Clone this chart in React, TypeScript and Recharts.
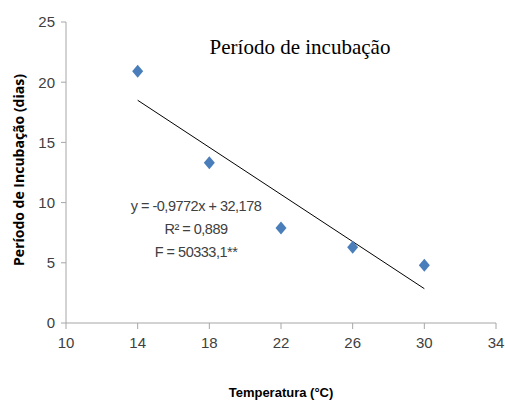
import { Scatter, ScatterChart, XAxis, YAxis } from "recharts";

const temperatures = [14, 18, 22, 26, 30];
const incubationDays = [20.9, 13.3, 7.9, 6.3, 4.8];
const trendX = [14, 30];
const trendY = [18.5, 2.85];
const xTicks = [10, 14, 18, 22, 26, 30, 34];
const yTicks = [0, 5, 10, 15, 20, 25];
const equationLines = ["y = -0,9772x + 32,178", "R² = 0,889", "F = 50333,1**"];

const points = temperatures.map((x, i) => ({ x, y: incubationDays[i] }));
const trend = trendX.map((x, i) => ({ x, y: trendY[i] }));

const axisColor = "#a6a6a6";
const narrow = "'Liberation Sans Narrow', 'Liberation Sans', sans-serif";
const tickFont = { fill: "#404040", fontSize: 15, fontFamily: narrow };

function Diamond(props: { cx?: number; cy?: number }) {
  const { cx = 0, cy = 0 } = props;
  const w = 5.5;
  const h = 6.5;
  return (
    <polygon
      points={`${cx},${cy - h} ${cx + w},${cy} ${cx},${cy + h} ${cx - w},${cy}`}
      fill="#4a7ebb"
    />
  );
}

export default function App() {
  return (
    <div style={{ position: "absolute", left: 0, top: 0, width: 505, height: 402, background: "#fff" }}>
      <ScatterChart width={505} height={402} margin={{ top: 22, right: 9, bottom: 0, left: 0 }}>
        <XAxis
          type="number"
          dataKey="x"
          domain={[10, 34]}
          ticks={xTicks}
          interval={0}
          height={79}
          stroke={axisColor}
          tickSize={6}
          tick={tickFont}
          tickMargin={8}
        />
        <YAxis
          type="number"
          dataKey="y"
          domain={[0, 25]}
          ticks={yTicks}
          interval={0}
          width={66}
          stroke={axisColor}
          tickSize={5}
          tick={tickFont}
          tickMargin={6}
        />
        <Scatter
          data={trend}
          line={{ stroke: "#000", strokeWidth: 1 }}
          shape={() => <g />}
          isAnimationActive={false}
        />
        <Scatter data={points} shape={<Diamond />} isAnimationActive={false} />
        <text x={300} y={54} textAnchor="middle" fontFamily="'Liberation Serif', serif" fontSize={21} fill="#000">
          Período de incubação
        </text>
        {equationLines.map((line, i) => (
          <text
            key={line}
            x={196}
            y={211 + i * 23}
            textAnchor="middle"
            fontFamily={narrow}
            fontSize={14.5}
            letterSpacing={-0.5}
            fill="#404040"
          >
            {line}
          </text>
        ))}
        <text
          x={24}
          y={170}
          transform="rotate(-90 24 170)"
          textAnchor="middle"
          fontFamily="'Open Sans', sans-serif"
          fontWeight="bold"
          fontSize={14}
          fill="#000"
        >
          Período de Incubação (dias)
        </text>
        <text
          x={281}
          y={397}
          textAnchor="middle"
          fontFamily={narrow}
          fontWeight="bold"
          fontSize={13}
          fill="#000"
        >
          Temperatura (°C)
        </text>
      </ScatterChart>
    </div>
  );
}
